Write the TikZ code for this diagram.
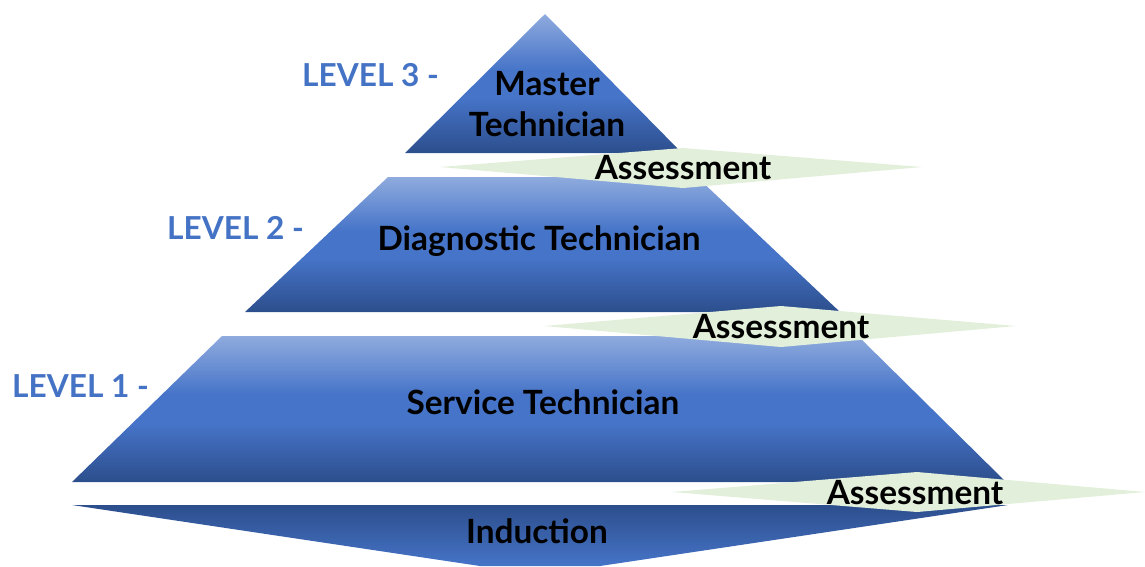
\documentclass[tikz,border=0pt]{standalone}
\usepackage{fontspec}
\setmainfont{Lato}
\usetikzlibrary{calc}

\definecolor{lvlblue}{RGB}{68,114,196}
\definecolor{lightblue}{RGB}{143,171,222}
\definecolor{midblue}{RGB}{70,116,200}
\definecolor{darkblue}{RGB}{44,78,140}
\definecolor{assessgreen}{RGB}{226,239,218}

\pgfdeclareverticalshading{tiershade}{100bp}{color(0bp)=(darkblue); color(25bp)=(darkblue); color(45bp)=(midblue); color(55bp)=(midblue); color(75bp)=(lightblue); color(100bp)=(lightblue)}
\pgfdeclareverticalshading{baseshade}{100bp}{color(0bp)=(midblue); color(25bp)=(midblue); color(75bp)=(darkblue); color(100bp)=(darkblue)}

\tikzset{
	tier/.style={shading=tiershade},
	base/.style={shading=baseshade},
	assess/.style={fill=assessgreen},
	tierlabel/.style={font=\fontsize{19}{23}\selectfont\bfseries, align=center, text=black},
	lvllabel/.style={font=\fontsize{18}{23}\selectfont\bfseries, text=lvlblue, anchor=west}
}

\begin{document}
\begin{tikzpicture}[x=0.02cm, y=-0.02cm]
		%%%%% START %%%%%
		\useasboundingbox (0, 0) rectangle (1145, 566);
		
		% pyramid tiers
		\shade[tier] (405, 153) -- (545, 14) -- (682, 153) -- cycle;
		\shade[tier] (245, 312) -- (388, 177) -- (697, 177) -- (840, 312) -- cycle;
		\shade[tier] (72, 482) -- (222, 336) -- (858, 336) -- (1006, 482) -- cycle;
		\shade[base] (72, 505) -- (1008, 505) -- (600, 566) -- (480, 566) -- cycle;
		
		% assessment bands
		\fill[assess] (440, 167) -- (683, 148) -- (922, 167) -- (683, 188) -- cycle;
		\fill[assess] (544, 326) -- (781, 306) -- (1016, 326) -- (781, 347) -- cycle;
		\fill[assess] (672, 492) -- (917, 472) -- (1145, 492) -- (917, 512) -- cycle;
		
		\node[tierlabel] (master) at (547, 104) {Master\\Technician};
		\node[tierlabel] (diag) at (539, 241) {Diagnostic Technician};
		\node[tierlabel] (service) at (543, 402) {Service Technician};
		\node[tierlabel] (induction) at (537, 531) {Induction};
		
		\node[tierlabel] (assessA) at (683, 168) {Assessment};
		\node[tierlabel] (assessB) at (781, 327) {Assessment};
		\node[tierlabel] (assessC) at (915, 493) {Assessment};
		
		\node[lvllabel] (lvlthree) at (296, 75) {LEVEL 3 -};
		\node[lvllabel] (lvltwo) at (161, 228) {LEVEL 2 -};
		\node[lvllabel] (lvlone) at (6, 386) {LEVEL 1 -};
		
		%%%%% END %%%%%
\end{tikzpicture}
\end{document}
